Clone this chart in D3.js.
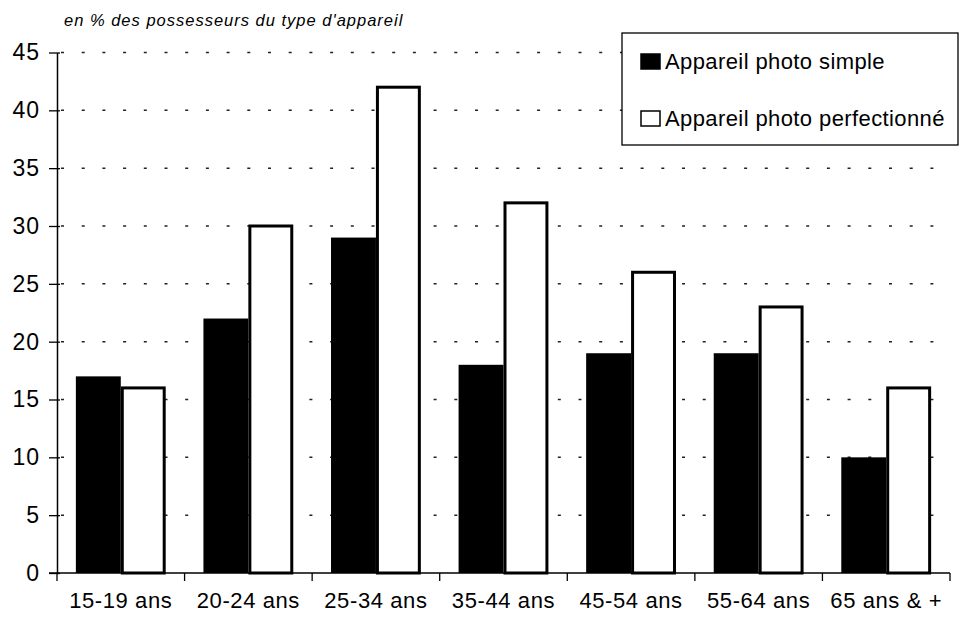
<!DOCTYPE html>
<html>
<head>
<meta charset="utf-8">
<script src="https://cdn.jsdelivr.net/npm/d3@7"></script>
<style>
  html, body { margin: 0; padding: 0; background: #fff; }
  svg { display: block; font-family: "Liberation Sans", Arial, Helvetica, sans-serif; }
</style>
</head>
<body>
<svg id="chart" width="960" height="622"></svg>
<script>
// Age groups and share of owners (%) for each type of camera
const categories = ["15-19 ans", "20-24 ans", "25-34 ans", "35-44 ans", "45-54 ans", "55-64 ans", "65 ans & +"];
const simple = [17, 22, 29, 18, 19, 19, 10];
const perfectionne = [16, 30, 42, 32, 26, 23, 16];
const seriesNames = ["Appareil photo simple", "Appareil photo perfectionné"];
const yTicks = [0, 5, 10, 15, 20, 25, 30, 35, 40, 45];

const svg = d3.select("#chart");
const plotLeft = 57, plotRight = 950, plotTop = 52.5, plotBottom = 573;

const x = d3.scaleBand().domain(categories).range([plotLeft, plotRight]).paddingInner(0).paddingOuter(0);
const inner = d3.scaleBand().domain([0, 1]).range([0, x.bandwidth()]).paddingInner(0).paddingOuter(0.42);
const y = d3.scaleLinear().domain([0, 45]).range([plotBottom, plotTop]);

// dotted horizontal gridlines
svg.append("g").selectAll("line").data(yTicks.filter(d => d > 0)).join("line")
  .attr("x1", plotLeft + 4).attr("x2", plotRight)
  .attr("y1", d => y(d)).attr("y2", d => y(d))
  .attr("stroke", "#222").attr("stroke-width", 1.5)
  .attr("stroke-dasharray", "3,17.7");

// bars
const rows = categories.map((c, i) => ({ c, vals: [simple[i], perfectionne[i]] }));
const groups = svg.append("g").selectAll("g").data(rows).join("g")
  .attr("transform", d => `translate(${x(d.c)},0)`);

groups.append("rect")
  .attr("x", inner(0)).attr("width", inner.bandwidth())
  .attr("y", d => y(d.vals[0])).attr("height", d => y(0) - y(d.vals[0]))
  .attr("fill", "#000");

groups.append("rect")
  .attr("x", inner(1) + 1.5).attr("width", inner.bandwidth() - 3)
  .attr("y", d => y(d.vals[1])).attr("height", d => y(0) - y(d.vals[1]))
  .attr("fill", "#fff").attr("stroke", "#000").attr("stroke-width", 3);

// y axis
const yAxis = d3.axisLeft(y).tickValues(yTicks).tickSize(8).tickPadding(9).tickSizeOuter(0);
const gy = svg.append("g").attr("transform", `translate(${plotLeft},0)`).call(yAxis);
gy.select(".domain").attr("stroke", "#000").attr("stroke-width", 1.5);
gy.selectAll(".tick line").attr("stroke", "#000").attr("stroke-width", 1.3).attr("x2", 3).attr("x1", -8);
gy.selectAll(".tick text").attr("font-size", 23).attr("fill", "#000")
  .attr("letter-spacing", 1)
  .attr("font-family", "'Liberation Sans', Arial, sans-serif");

// x axis with ticks at group boundaries
const gx = svg.append("g").attr("transform", `translate(0,${plotBottom})`);
gx.append("line").attr("x1", plotLeft - 8).attr("x2", plotRight).attr("stroke", "#000").attr("stroke-width", 1.5);
const bounds = categories.map(c => x(c)).concat([plotRight]);
gx.selectAll("line.tk").data(bounds).join("line").attr("class", "tk")
  .attr("x1", d => d).attr("x2", d => d).attr("y1", 0).attr("y2", 8)
  .attr("stroke", "#000").attr("stroke-width", 1.3);
gx.selectAll("text").data(categories).join("text")
  .attr("x", d => x(d) + x.bandwidth() / 2).attr("y", 35)
  .attr("text-anchor", "middle").attr("font-size", 22).attr("letter-spacing", 0.6)
  .attr("fill", "#000")
  .text(d => d);

// unit note
svg.append("text").attr("x", 64).attr("y", 26)
  .attr("font-size", 16.5).attr("font-style", "italic").attr("letter-spacing", 1)
  .attr("fill", "#000")
  .text("en % des possesseurs du type d'appareil");

// legend
const lg = svg.append("g");
lg.append("rect").attr("x", 622).attr("y", 33).attr("width", 336).attr("height", 112)
  .attr("fill", "#fff").attr("stroke", "#000").attr("stroke-width", 1.3);
const items = lg.selectAll("g").data(seriesNames).join("g")
  .attr("transform", (d, i) => `translate(0,${i * 57})`);
items.append("rect").attr("x", 641).attr("y", 54).attr("width", 19).attr("height", 15)
  .attr("fill", (d, i) => i === 0 ? "#000" : "#fff").attr("stroke", "#000").attr("stroke-width", 1.5);
items.append("text").attr("x", 665).attr("y", 69).attr("font-size", 22).attr("letter-spacing", 0.4)
  .attr("fill", "#000")
  .text(d => d);
</script>
</body>
</html>
